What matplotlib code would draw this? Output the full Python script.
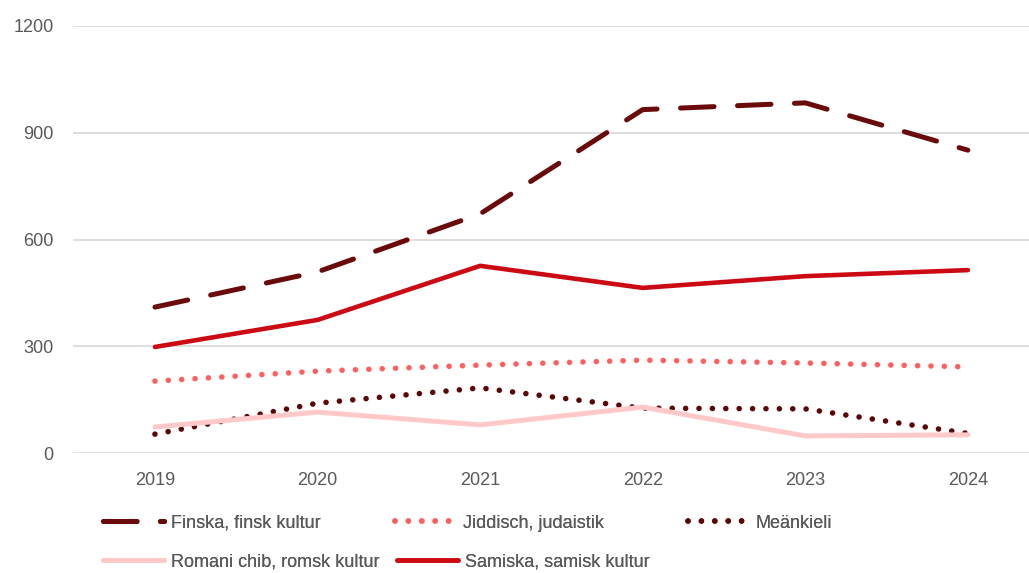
import matplotlib
matplotlib.use("Agg")
import matplotlib.pyplot as plt
from matplotlib import font_manager

years = ["2019", "2020", "2021", "2022", "2023", "2024"]
finska = [410, 509, 672, 965, 984, 851]
jiddisch = [202, 230, 247, 261, 253, 242]
meankieli = [53, 140, 183, 126, 124, 55]
romani = [73, 115, 79, 129, 48, 51]
samiska = [298, 374, 526, 464, 497, 514]
yticks = [0, 300, 600, 900, 1200]

plt.rcParams["font.family"] = ["Liberation Sans", "DejaVu Sans"]

W, H = 1029, 573
fig = plt.figure(figsize=(W / 100, H / 100), dpi=100)
ax = fig.add_axes([73 / W, 1 - 453 / H, (W - 73) / W, (453 - 26) / H])

x = list(range(len(years)))
h_fin, = ax.plot(x, finska, color="#6B0A0A", lw=3.6, dashes=(6.7, 4.7), dash_capstyle="round",
                 label="Finska, finsk kultur")
h_jid, = ax.plot(x, jiddisch, color="#FF5F5F", lw=4, dashes=(0.01, 2.4), dash_capstyle="round",
                 label="Jiddisch, judaistik")
h_mea, = ax.plot(x, meankieli, color="#5C0505", lw=4, dashes=(0.01, 2.4), dash_capstyle="round",
                 label="Meänkieli")
h_rom, = ax.plot(x, romani, color="#FFC9C9", lw=3.6, solid_capstyle="round",
                 label="Romani chib, romsk kultur")
h_sam, = ax.plot(x, samiska, color="#CC0A14", lw=3.3, solid_capstyle="round",
                 label="Samiska, samisk kultur")

ax.set_xlim(-0.504, 5.376)
ax.set_ylim(0, 1200)
ax.set_yticks(yticks)
ax.set_yticklabels([str(v) for v in yticks])
ax.set_xticks(x)
ax.set_xticklabels(years)
ax.grid(axis="y", color="#D9D9D9", lw=1.2)
ax.set_axisbelow(True)
for s in ax.spines.values():
    s.set_visible(False)
ax.tick_params(axis="both", length=0, labelsize=13, colors="#595959")
ax.tick_params(axis="y", pad=14)
ax.tick_params(axis="x", pad=14)

# legend entries placed individually (row-major like the reference)
entries = [
    (h_fin, 103, 523),
    (h_jid, 395, 523),
    (h_mea, 688, 523),
    (h_rom, 103, 562),
    (h_sam, 397, 562),
]
for h, px, py in entries:
    lg = fig.legend([h], [h.get_label()], loc="center left",
                    bbox_to_anchor=(px / W, 1 - py / H), frameon=False,
                    fontsize=13, handlelength=3.4, handletextpad=0.35,
                    borderaxespad=0, borderpad=0)
    for t in lg.get_texts():
        t.set_color("#595959")
    fig.add_artist(lg)

fig.savefig("out.png", dpi=100)
